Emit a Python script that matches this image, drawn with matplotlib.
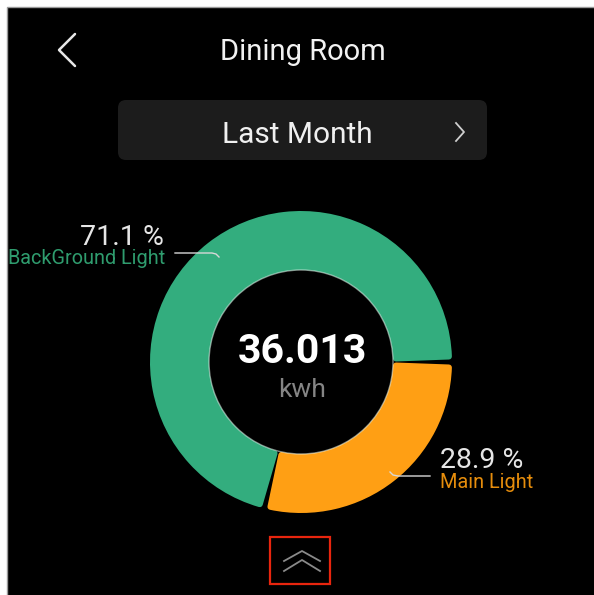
import numpy as np
import matplotlib.pyplot as plt
from matplotlib.patches import FancyBboxPatch, Rectangle, Circle

plt.rcParams['font.family'] = ['Roboto', 'DejaVu Sans']

# energy split for the room
labels = ['Main Light', 'BackGround Light']
shares = [28.9, 71.1]
colors = ['#ff9f14', '#33ad7e']
label_colors = ['#e68d0c', '#2f9c6e']
total_kwh = 36.013
title = 'Dining Room'
period = 'Last Month'

W, H = 594, 595
fig = plt.figure(figsize=(W / 100, H / 100), dpi=100, facecolor='white')
ax = fig.add_axes([0, 0, 1, 1])


def Y(y):
    return H - y


# phone screen background (border only shows on top and left)
ax.add_patch(Rectangle((7, -10), W + 10, H - 7 + 10, facecolor='black',
                       edgecolor='#9a9a9a', lw=1.0))

# header
ax.text(303, Y(60), title, color='#f2f2f2', fontsize=21, ha='center', va='baseline')
ax.plot([75, 59, 75], [Y(34), Y(50), Y(66)], color='#e8e8e8', lw=1.8, solid_capstyle='round')

# period selector
ax.add_patch(FancyBboxPatch((126, Y(160) + 8), 353, 44, boxstyle='round,pad=8',
                            facecolor='#1c1c1c', edgecolor='none'))
ax.text(297, Y(143), period, color='#f0f0f0', fontsize=21.5, ha='center', va='baseline')
ax.plot([456, 464, 456], [Y(123), Y(132), Y(141)], color='#cfcfcf', lw=1.3)

# donut
cx, cy = 301, Y(362)
R, ring = 151, 59
e = 3.0          # corner rounding, px
gap = 3.0        # black gap between slices, px
wedges, _ = ax.pie(shares, colors=colors, startangle=0, counterclock=False,
                   center=(cx, cy), radius=R - e,
                   wedgeprops=dict(width=ring - 2 * e, linewidth=2 * e * 0.72,
                                   joinstyle='round'))
d = np.degrees((gap / 2 + e) / (R - ring / 2))
for w in wedges:
    w.set_edgecolor(w.get_facecolor())
    w.set_theta1(w.theta1 + d)
    w.set_theta2(w.theta2 - d)
ax.add_patch(Circle((cx, cy), R - ring, facecolor='none',
                    edgecolor='#e6f5ee', alpha=0.55, lw=1.0))

ax.text(cx + 1, Y(363), f'{total_kwh:.3f}', color='white', fontsize=29.5,
        fontweight='bold', ha='center', va='baseline')
ax.text(cx + 1, Y(397), 'kwh', color='#858585', fontsize=19, ha='center', va='baseline')

# callouts
ax.plot([175, 212, 216, 219], [Y(253), Y(253), Y(254), Y(257)], color='#d8d8d8', lw=1.0)
ax.text(164, Y(245), f'{shares[1]} %', color='#e6e6e6', fontsize=20.5, ha='right', va='baseline')
ax.text(165, Y(264), labels[1], color=label_colors[1], fontsize=14.3, ha='right', va='baseline')

ax.plot([390, 393, 398, 430], [Y(472), Y(475), Y(476), Y(476)], color='#d8d8d8', lw=1.0)
ax.text(440, Y(468), f'{shares[0]} %', color='#e6e6e6', fontsize=20.5, ha='left', va='baseline')
ax.text(440, Y(488), labels[0], color=label_colors[0], fontsize=14.3, ha='left', va='baseline')

# collapse button
ax.add_patch(Rectangle((270, Y(584)), 60, 47, facecolor='none', edgecolor='#e8250e', lw=1.6))
ax.plot([284, 302, 320], [Y(561), Y(551), Y(561)], color='#8a8a8a', lw=1.3)
ax.plot([284, 302, 320], [Y(571), Y(560), Y(571)], color='#8a8a8a', lw=1.3)

ax.set_xlim(0, W)
ax.set_ylim(0, H)
ax.set_aspect('auto')
ax.axis('off')

fig.savefig('out.png', dpi=100, facecolor='white')
